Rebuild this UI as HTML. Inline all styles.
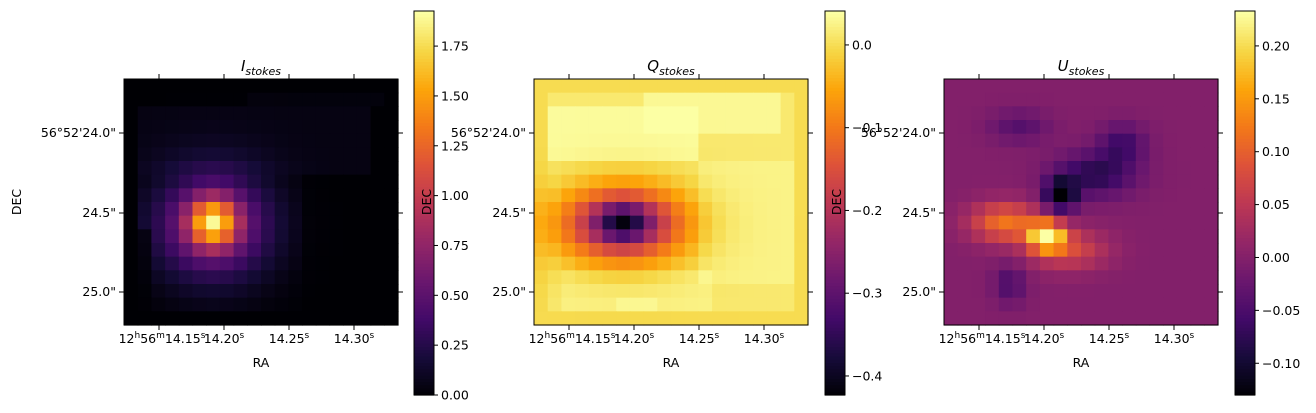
<!DOCTYPE html>
<html><head><meta charset="utf-8">
<style>
html,body{margin:0;padding:0;background:#fff;}
svg{display:block;}
text{font-family:"DejaVu Sans","Liberation Sans",sans-serif;font-size:12.5px;fill:#000;}
</style></head>
<body>
<svg id="s" width="1316" height="413" xmlns="http://www.w3.org/2000/svg"></svg>
<script>
const A=[[0,0,4],[22,11,57],[66,10,104],[106,23,110],[147,38,103],[188,55,84],[221,81,58],[243,120,25],[252,165,10],[246,215,70],[252,255,164]];
function cmap(t){t=Math.max(0,Math.min(1,t));const f=t*10,i=Math.min(9,Math.floor(f)),r=f-i;const a=A[i],b=A[i+1];
return 'rgb('+[0,1,2].map(k=>Math.round(a[k]+(b[k]-a[k])*r)).join(',')+')';}
function g(x,y,cx,cy,sx,sy){return Math.exp(-((x-cx)**2/(2*sx*sx)+(y-cy)**2/(2*sy*sy)));}
const NC=20,NR=18;
function fI(c,r){
 if(c==0||r>=17) return 0;
 let v=1.2*g(c,r,6,10,1.2,1.2)+0.7*g(c,r,6,10.2,3.0,2.8);
 if(r>=2&&r<=6&&c<=17) v+=0.05;
 if(r==1&&c>=9&&c<=18) v+=0.03;
 if(c>=13&&r>=7) v*=0.3;
 if(c==1&&r>=11) v*=0.3;
 return v;}
function fQ(c,r){
 let v=0.015;
 if(r>=2&&r<=5&&c>=1&&c<=11) v+=0.022;
 if(r>=1&&r<=3&&c>=8&&c<=17) v+=0.018;
 if(r>=14&&r<=16&&c>=2&&c<=12) v+=0.012;
 if(r==16&&c>=6&&c<=8) v+=0.01;
 if(c>=12&&c<=18&&r>=6&&r<=14) v+=0.012;
 if(c==0||c==19||r==0||r==17) v=0.0;
 v-=0.15*g(c,r,6,10,1.3,0.9);
 v-=0.25*g(c,r,6,10.1,3.1,1.8);
 v-=0.03*g(c,r,6,10.5,4,2.8);
 return v;}
function fU(c,r){
 let v=0.0;
 v+=0.23*g(c,r,7,11,0.9,0.7);
 v+=0.12*g(c,r,4,10,1.8,1.0);
 v+=0.08*g(c,r,8.5,12,2.0,1.0);
 v-=0.14*g(c,r,8,8,0.8,0.8);
 v-=0.08*g(c,r,10.5,6.5,2.0,1.1);
 v-=0.06*g(c,r,12.5,4.3,1.2,1.0);
 v-=0.04*g(c,r,5,3,1.5,0.8);
 v-=0.05*g(c,r,4.3,14.5,0.8,1.0);
 return v;}
const S=document.getElementById('s');let h='';
function T(x,y,s,anc,extra){h+=`<text x="${x}" y="${y}" text-anchor="${anc||'start'}" ${extra||''}>${s}</text>`;}
const P=[
 {x0:124,f:fI,vmin:0,vmax:1.926,title:'I',cb:414,ticks:[[0,'0.00'],[0.25,'0.25'],[0.5,'0.50'],[0.75,'0.75'],[1,'1.00'],[1.25,'1.25'],[1.5,'1.50'],[1.75,'1.75']]},
 {x0:534,f:fQ,vmin:-0.423,vmax:0.041,title:'Q',cb:825,ticks:[[0,'0.0'],[-0.1,'−0.1'],[-0.2,'−0.2'],[-0.3,'−0.3'],[-0.4,'−0.4']]},
 {x0:944,f:fU,vmin:-0.130,vmax:0.233,title:'U',cb:1235,ticks:[[0.2,'0.20'],[0.15,'0.15'],[0.1,'0.10'],[0.05,'0.05'],[0,'0.00'],[-0.05,'−0.05'],[-0.1,'−0.10']]}
];
const Y0=79,W=274,H=246,cw=W/NC,ch=H/NR;
P.forEach(p=>{
 for(let r=0;r<NR;r++)for(let c=0;c<NC;c++){
  const t=(p.f(c,r)-p.vmin)/(p.vmax-p.vmin);
  h+=`<rect x="${(p.x0+c*cw).toFixed(2)}" y="${(Y0+r*ch).toFixed(2)}" width="${(cw+0.6).toFixed(2)}" height="${(ch+0.6).toFixed(2)}" fill="${cmap(t)}"/>`;}
 h+=`<rect x="${p.x0}" y="${Y0}" width="${W}" height="${H}" fill="none" stroke="#000" stroke-width="1"/>`;
 const tx=[35,100,165,230];
 tx.forEach(d=>{const x=p.x0+d;h+=`<line x1="${x}" y1="${Y0}" x2="${x}" y2="${Y0-5}" stroke="#000"/><line x1="${x}" y1="${Y0+H}" x2="${x}" y2="${Y0+H+5}" stroke="#000"/>`;});
 [133,213,292].forEach(y=>{h+=`<line x1="${p.x0-5}" y1="${y}" x2="${p.x0}" y2="${y}" stroke="#000"/><line x1="${p.x0+W}" y1="${y}" x2="${p.x0+W+5}" y2="${y}" stroke="#000"/>`;});
 const ly=343;
 T(p.x0+38,ly,'12<tspan dy="-5" font-size="9">h</tspan><tspan dy="5">56</tspan><tspan dy="-5" font-size="9">m</tspan><tspan dy="5">14.15</tspan><tspan dy="-5" font-size="9">s</tspan>','middle');
 T(p.x0+100,ly,'14.20<tspan dy="-5" font-size="9">s</tspan>','middle');
 T(p.x0+165,ly,'14.25<tspan dy="-5" font-size="9">s</tspan>','middle');
 T(p.x0+230,ly,'14.30<tspan dy="-5" font-size="9">s</tspan>','middle');
 T(p.x0+137,367,'RA','middle');
 T(p.x0-8,137,'56°52\'24.0"','end');
 T(p.x0-8,217,'24.5"','end');
 T(p.x0-8,296,'25.0"','end');
 h+=`<text x="${p.x0-103}" y="202" text-anchor="middle" transform="rotate(-90 ${p.x0-103} 202)">DEC</text>`;
 h+=`<text x="${p.x0+137}" y="71" text-anchor="middle" font-size="15"><tspan font-style="italic" font-size="15">${p.title}</tspan><tspan font-style="italic" font-size="11" dy="4">stokes</tspan></text>`;
 const cy0=11,cy1=395,N=120;
 for(let i=0;i<N;i++){const y=cy0+(cy1-cy0)*i/N;h+=`<rect x="${p.cb}" y="${y.toFixed(2)}" width="20" height="${((cy1-cy0)/N+0.6).toFixed(2)}" fill="${cmap(1-i/N)}"/>`;}
 h+=`<rect x="${p.cb}" y="${cy0}" width="20" height="${cy1-cy0}" fill="none" stroke="#000"/>`;
 p.ticks.forEach(([v,s])=>{const y=cy1-(v-p.vmin)/(p.vmax-p.vmin)*(cy1-cy0);
  h+=`<line x1="${p.cb+20}" y1="${y}" x2="${p.cb+24}" y2="${y}" stroke="#000"/>`;T(p.cb+27,y+4.5,s);});
});
S.innerHTML=h;
</script>
</body></html>
